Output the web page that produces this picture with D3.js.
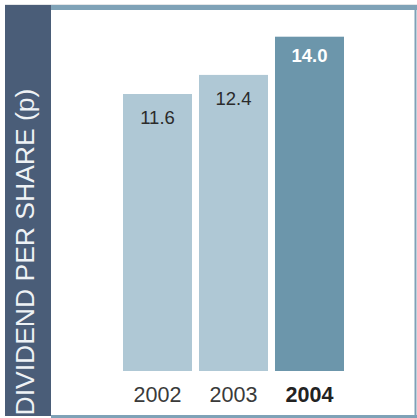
<!DOCTYPE html>
<html>
<head>
<meta charset="utf-8">
<script src="https://cdn.jsdelivr.net/npm/d3@7"></script>
<style>
  html, body { margin: 0; padding: 0; background: #ffffff; }
  svg { display: block; }
  text { font-family: "Liberation Sans", Arial, Helvetica, sans-serif; }
</style>
</head>
<body>
<script>
// Dividend per share, pence
const years = ["2002", "2003", "2004"];
const dividends = [11.6, 12.4, 14.0];
const highlightYear = "2004";
const axisTitle = "DIVIDEND PER SHARE (p)";

const W = 417, H = 418;
const svg = d3.select("body").append("svg")
  .attr("width", W).attr("height", H);

// Frame: dark side panel, top rule, right and bottom borders
svg.append("rect").attr("x", 0).attr("y", 0).attr("width", W).attr("height", H).attr("fill", "#ffffff");
svg.append("rect").attr("x", 5).attr("y", 4).attr("width", W - 5).attr("height", 1).attr("fill", "#e4e6e8");
svg.append("rect").attr("x", 5).attr("y", 5).attr("width", 46).attr("height", 411).attr("fill", "#4a5d78");
svg.append("rect").attr("x", 51).attr("y", 5).attr("width", W - 51).attr("height", 5).attr("fill", "#7fa2b7");
svg.append("rect").attr("x", 414.5).attr("y", 5).attr("width", 2).attr("height", H - 5).attr("fill", "#7fa2b7");
svg.append("rect").attr("x", 51).attr("y", 415).attr("width", W - 51).attr("height", 3).attr("fill", "#7fa2b7");

// Rotated title in the side panel
svg.append("text")
  .attr("transform", "translate(34,415.5) rotate(-90)")
  .attr("font-size", 26.5)
  .attr("fill", "#eef2f5")
  .text(axisTitle);

// Scales
const x = d3.scaleBand().domain(years).range([123, 344]).paddingInner(0.092).paddingOuter(0);
const y = d3.scaleLinear().domain([0, 14]).range([371, 36.7]);

const data = years.map((yr, i) => ({ year: yr, value: dividends[i], hi: yr === highlightYear }));

// Bars
svg.append("g").selectAll("rect").data(data).join("rect")
  .attr("x", d => x(d.year))
  .attr("width", x.bandwidth())
  .attr("y", d => y(d.value))
  .attr("height", d => y(0) - y(d.value))
  .attr("fill", d => d.hi ? "#6c96ab" : "#afc8d5");

// Value labels inside bars
svg.append("g").selectAll("text").data(data).join("text")
  .attr("x", d => x(d.year) + x.bandwidth() / 2)
  .attr("y", d => y(d.value) + (d.hi ? 25 : 30))
  .attr("text-anchor", "middle")
  .attr("font-size", 18.5)
  .attr("font-weight", d => d.hi ? "bold" : "normal")
  .attr("fill", d => d.hi ? "#ffffff" : "#2b2b2b")
  .text(d => d.value.toFixed(1));

// Category axis (labels only)
const xAxis = svg.append("g")
  .attr("transform", `translate(0,${y(0)})`)
  .call(d3.axisBottom(x).tickSize(0).tickPadding(12));
xAxis.select(".domain").remove();
xAxis.selectAll("text")
  .attr("dy", "0.71em")
  .attr("y", 15.5)
  .attr("font-family", "\"Liberation Sans\", Arial, Helvetica, sans-serif")
  .attr("font-size", 21.5)
  .attr("font-weight", d => d === highlightYear ? "bold" : "normal")
  .attr("fill", d => d === highlightYear ? "#222222" : "#3a3a3a");
</script>
</body>
</html>
